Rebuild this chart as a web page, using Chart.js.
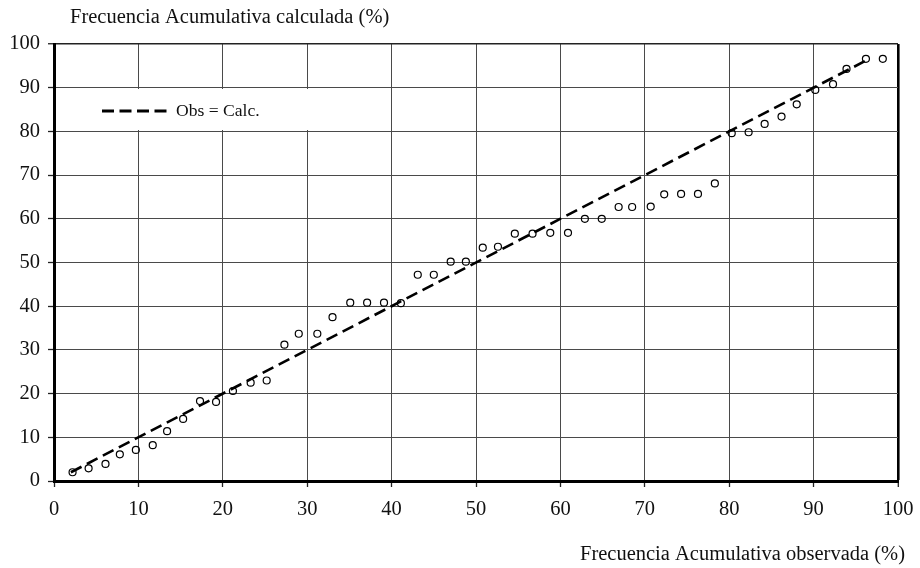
<!DOCTYPE html>
<html>
<head>
<meta charset="utf-8">
<script src="https://cdn.jsdelivr.net/npm/chart.js@4"></script>
<style>
  html, body { margin: 0; padding: 0; background: #fff; }
</style>
</head>
<body>
<canvas id="chart" width="920" height="568"></canvas>
<script>
// Observed vs calculated cumulative frequency (%)
const observed = [
  2.2, 4.1, 6.1, 7.8, 9.7, 11.7, 13.4, 15.3, 17.3, 19.2,
  21.2, 23.3, 25.2, 27.3, 29.0, 31.2, 33.0, 35.1, 37.1, 39.1,
  41.1, 43.1, 45.0, 47.0, 48.8, 50.8, 52.6, 54.6, 56.7, 58.8,
  60.9, 62.9, 64.9, 66.9, 68.5, 70.7, 72.3, 74.3, 76.3, 78.3,
  80.3, 82.3, 84.2, 86.2, 88.0, 90.2, 92.3, 93.9, 96.2, 98.2
]
const calculated = [
  2.0, 2.9, 3.9, 6.1, 7.1, 8.2, 11.4, 14.2, 18.3, 18.1,
  20.6, 22.5, 23.0, 31.2, 33.7, 33.7, 37.5, 40.8, 40.8, 40.8,
  40.7, 47.2, 47.2, 50.2, 50.2, 53.4, 53.6, 56.6, 56.6, 56.8,
  56.8, 60.0, 60.0, 62.7, 62.7, 62.8, 65.6, 65.7, 65.7, 68.1,
  79.6, 79.8, 81.7, 83.4, 86.2, 89.5, 90.8, 94.3, 96.6, 96.6
]
// 1:1 reference line ends
const identityEnds = [2.0, 96.6]
const axisTicks = [0, 10, 20, 30, 40, 50, 60, 70, 80, 90, 100]

const FONT = "'Liberation Serif', 'Times New Roman', serif"
const GRID = "#4a4a4a"

const points = observed.map((x, i) => ({ x: x, y: calculated[i] }))
const identity = identityEnds.map((v) => ({ x: v, y: v }))

// axis titles + the legend box inside the plot
const decorations = {
  id: "decorations",
  beforeDatasetsDraw(chart) {
    const ctx = chart.ctx
    ctx.save()
    ctx.fillStyle = "#fff"
    ctx.fillRect(56, 89, 255, 41)
    ctx.strokeStyle = "#000"
    ctx.lineWidth = 2.8
    ctx.setLineDash([12, 5.5])
    ctx.beginPath()
    ctx.moveTo(102, 111)
    ctx.lineTo(167, 111)
    ctx.stroke()
    ctx.setLineDash([])
    ctx.fillStyle = "#111"
    ctx.font = "17.6px " + FONT
    ctx.textBaseline = "middle"
    ctx.fillText("Obs = Calc.", 176, 111)
    ctx.restore()
  },
  afterDraw(chart) {
    const ctx = chart.ctx
    ctx.save()
    ctx.fillStyle = "#111"
    ctx.font = "20.5px " + FONT
    ctx.textBaseline = "middle"
    ctx.textAlign = "left"
    ctx.fillText("Frecuencia Acumulativa calculada (%)", 70, 18)
    ctx.textAlign = "right"
    ctx.fillText("Frecuencia Acumulativa observada (%)", 905, 555)
    ctx.restore()
  },
}

new Chart(document.getElementById("chart"), {
  type: "scatter",
  data: {
    datasets: [
      {
        label: "Obs = Calc.",
        data: identity,
        showLine: true,
        borderColor: "#000",
        borderWidth: 2.6,
        borderDash: [12, 6],
        pointRadius: 0,
        order: 1,
      },
      {
        label: "datos",
        data: points,
        pointStyle: "circle",
        pointRadius: 3.5,
        borderWidth: 1.2,
        borderColor: "#000",
        backgroundColor: "rgba(0,0,0,0)",
        order: 2,
      },
    ],
  },
  options: {
    responsive: false,
    animation: false,
    layout: { padding: { top: 44, right: 22, left: 0, bottom: 0 } },
    plugins: {
      legend: { display: false },
      tooltip: { enabled: false },
    },
    scales: {
      x: {
        type: "linear",
        min: 0,
        max: 100,
        afterBuildTicks: (scale) => {
          scale.ticks = axisTicks.map((v) => ({ value: v }))
        },
        afterFit: (scale) => {
          // keep the plot edges fixed regardless of label overhang
          scale.height = 87
          scale.paddingLeft = 0
          scale.paddingRight = 0
        },
        ticks: {
          color: "#111",
          font: { family: FONT, size: 20.5 },
          padding: 10,
          maxRotation: 0,
        },
        grid: {
          color: (c) => (c.tick && c.tick.value === 100 ? "#000" : GRID),
          lineWidth: (c) => (c.tick && c.tick.value === 100 ? 2.6 : 1),
          tickLength: 6,
          tickColor: "#222",
          tickWidth: 1.3,
        },
        border: { color: "#000", width: 3 },
      },
      y: {
        type: "linear",
        min: 0,
        max: 100,
        afterBuildTicks: (scale) => {
          scale.ticks = axisTicks.map((v) => ({ value: v }))
        },
        afterFit: (scale) => {
          scale.width = 54
          scale.paddingTop = 0
          scale.paddingBottom = 0
        },
        ticks: {
          color: "#111",
          font: { family: FONT, size: 20.5 },
          padding: 8,
        },
        grid: {
          color: (c) => (c.tick && c.tick.value === 100 ? "#222" : GRID),
          lineWidth: (c) => (c.tick && c.tick.value === 100 ? 1.5 : 1),
          tickLength: 6,
          tickColor: "#222",
          tickWidth: 1.3,
        },
        border: { color: "#000", width: 3 },
      },
    },
  },
  plugins: [decorations],
})
</script>
</body>
</html>
